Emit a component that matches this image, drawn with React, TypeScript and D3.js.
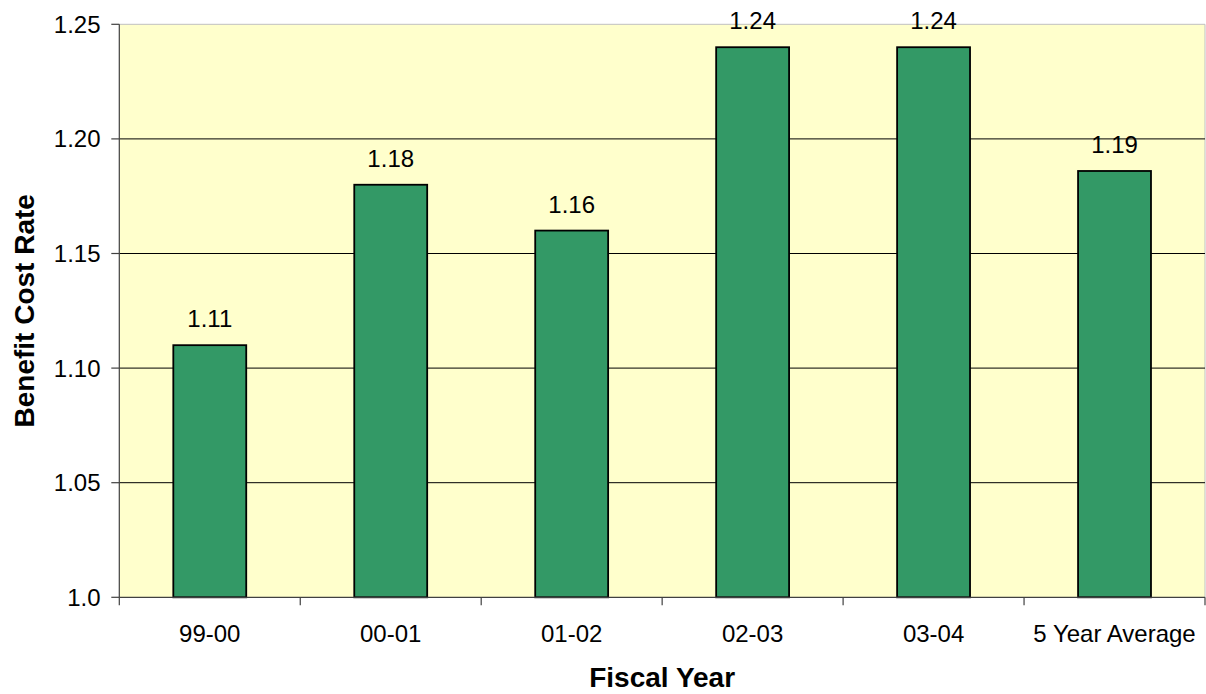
import React from "react";
import * as d3 from "d3";

// Fiscal years and their benefit cost rates
const categories = ["99-00", "00-01", "01-02", "02-03", "03-04", "5 Year Average"];
const rates = [1.11, 1.18, 1.16, 1.24, 1.24, 1.186];

// Value axis ticks and their printed labels
const yTicks = [1.0, 1.05, 1.1, 1.15, 1.2, 1.25];
const yTickLabels = ["1.0", "1.05", "1.10", "1.15", "1.20", "1.25"];

const W = 1206;
const H = 694;
const plot = { left: 119.3, right: 1205, top: 24.3, bottom: 597.3 };
const FONT = "'Liberation Sans', Arial, Helvetica, sans-serif";

export default function App() {
  const x = d3
    .scaleBand<string>()
    .domain(categories)
    .range([plot.left, plot.right])
    .paddingInner(0.597)
    .paddingOuter(0.2985);
  const y = d3.scaleLinear().domain([1.0, 1.25]).range([plot.bottom, plot.top]);
  const step = x.step();
  const boundaries = d3.range(categories.length + 1).map((i) => plot.left + i * step);

  return (
    <svg
      width={W}
      height={H}
      style={{ position: "absolute", left: 0, top: 0, background: "#fff" }}
      fontFamily={FONT}
    >
      {/* plot area */}
      <rect
        x={plot.left}
        y={plot.top}
        width={plot.right - plot.left}
        height={plot.bottom - plot.top}
        fill="#FFFFCC"
      />
      <line x1={plot.left} x2={plot.right} y1={plot.top} y2={plot.top} stroke="#c0c0c0" strokeWidth={1} />
      <line x1={plot.right} x2={plot.right} y1={plot.top} y2={plot.bottom} stroke="#c0c0c0" strokeWidth={1} />

      {/* horizontal gridlines */}
      {yTicks
        .filter((t) => t > 1.0 && t < 1.25)
        .map((t) => (
          <line key={t} x1={plot.left} x2={plot.right} y1={y(t)} y2={y(t)} stroke="#000" strokeWidth={1} />
        ))}

      {/* bars */}
      {categories.map((c, i) => (
        <rect
          key={c}
          x={x(c)}
          y={y(rates[i])}
          width={x.bandwidth()}
          height={y(1.0) - y(rates[i])}
          fill="#339966"
          stroke="#000"
          strokeWidth={1.8}
        />
      ))}

      {/* value labels */}
      {categories.map((c, i) => (
        <text
          key={c}
          x={(x(c) as number) + x.bandwidth() / 2}
          y={y(rates[i]) - 18}
          textAnchor="middle"
          fontSize={24}
          fill="#000"
        >
          {rates[i].toFixed(2)}
        </text>
      ))}

      {/* value axis */}
      <line x1={plot.left} x2={plot.left} y1={plot.top} y2={plot.bottom} stroke="#404040" strokeWidth={1.2} />
      {yTicks.map((t, i) => (
        <g key={t}>
          <line x1={plot.left - 8} x2={plot.left} y1={y(t)} y2={y(t)} stroke="#404040" strokeWidth={1.2} />
          <text x={100.5} y={y(t)} dy="0.35em" textAnchor="end" fontSize={24} fill="#000">
            {yTickLabels[i]}
          </text>
        </g>
      ))}

      {/* category axis */}
      <line x1={plot.left} x2={plot.right} y1={plot.bottom} y2={plot.bottom} stroke="#404040" strokeWidth={1.2} />
      {boundaries.map((b, i) => (
        <line key={i} x1={b} x2={b} y1={plot.bottom} y2={plot.bottom + 8} stroke="#404040" strokeWidth={1.2} />
      ))}
      {categories.map((c) => (
        <text
          key={c}
          x={(x(c) as number) + x.bandwidth() / 2}
          y={641.5}
          textAnchor="middle"
          fontSize={24}
          fill="#000"
        >
          {c}
        </text>
      ))}

      {/* axis titles */}
      <text
        x={(plot.left + plot.right) / 2}
        y={687}
        textAnchor="middle"
        fontSize={28}
        fontWeight="bold"
        fill="#000"
      >
        Fiscal Year
      </text>
      <text
        transform={`translate(33.5, ${(plot.top + plot.bottom) / 2}) rotate(-90)`}
        textAnchor="middle"
        fontSize={28}
        fontWeight="bold"
        fill="#000"
      >
        Benefit Cost Rate
      </text>
    </svg>
  );
}
